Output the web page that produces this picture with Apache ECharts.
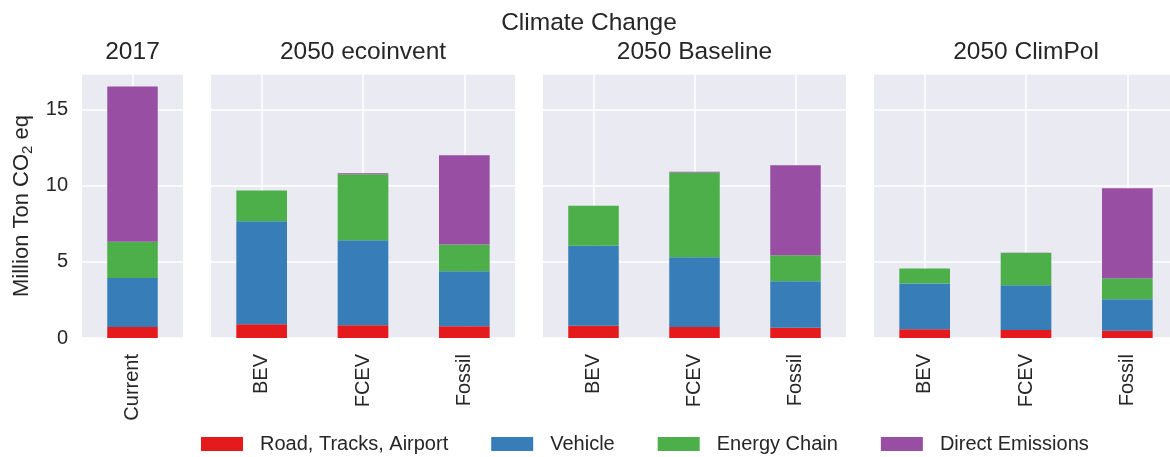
<!DOCTYPE html>
<html>
<head>
<meta charset="utf-8">
<script src="https://cdn.jsdelivr.net/npm/echarts@6/dist/echarts.min.js"></script>
<style>
  html, body { margin: 0; padding: 0; background: #fff; }
  #chart { width: 1170px; height: 457px; }
</style>
</head>
<body>
<div id="chart"></div>
<script>
// Panel titles and their categories
const panelTitles = ['2017', '2050 ecoinvent', '2050 Baseline', '2050 ClimPol'];
const panelCategories = [
  ['Current'],
  ['BEV', 'FCEV', 'Fossil'],
  ['BEV', 'FCEV', 'Fossil'],
  ['BEV', 'FCEV', 'Fossil']
];

// Emission components (Million Ton CO2 eq), one array per panel
const roadTracksAirport = [[0.72], [0.90, 0.83, 0.77], [0.81, 0.72, 0.68], [0.57, 0.53, 0.48]];
const vehicle           = [[3.23], [6.78, 5.60, 3.62], [5.25, 4.59, 3.05], [3.01, 2.94, 2.07]];
const energyChain       = [[2.37], [2.02, 4.33, 1.76], [2.63, 5.56, 1.71], [0.99, 2.11, 1.38]];
const directEmissions   = [[10.21], [0, 0.06, 5.86], [0, 0.06, 5.91], [0, 0.02, 5.91]];

const seriesNames = ['Road, Tracks, Airport', 'Vehicle', 'Energy Chain', 'Direct Emissions'];
const seriesColors = ['#E41A1C', '#377EB8', '#4DAF4A', '#984EA3'];
const seriesData = [roadTracksAirport, vehicle, energyChain, directEmissions];

const yTicks = [0, 5, 10, 15];
const yMax = 17.35;

const FONT = '"Liberation Sans", Arial, sans-serif';
const TXT = '#262626';
const BG = '#EAEAF2';

// Grid boxes for the four panels
const gridBoxes = [
  { left: 82, width: 101 },
  { left: 211, width: 304 },
  { left: 543, width: 303 },
  { left: 874, width: 304 }
];
const gridTop = 74;
const gridHeight = 264;

const grids = gridBoxes.map(g => ({
  left: g.left, width: g.width, top: gridTop, height: gridHeight,
  show: true, backgroundColor: BG, borderWidth: 0, containLabel: false,
  outerBoundsMode: 'none'
}));

const xAxes = panelCategories.map((cats, i) => ({
  type: 'category', gridIndex: i, data: cats,
  axisLine: { show: false }, axisTick: { show: false, alignWithLabel: true },
  axisLabel: { rotate: 90, margin: 16, fontSize: 20, color: TXT, fontFamily: FONT },
  splitLine: { show: true, alignWithLabel: true, lineStyle: { color: '#fff', width: 1.5 } }
}));

const yAxes = panelCategories.map((_, i) => ({
  type: 'value', gridIndex: i, min: 0, max: yMax, interval: 5,
  axisLine: { show: false }, axisTick: { show: false },
  axisLabel: {
    show: i === 0, fontSize: 20, color: TXT, fontFamily: FONT, margin: 14,
    showMaxLabel: false,
    formatter: v => (yTicks.indexOf(v) >= 0 ? String(v) : '')
  },
  splitLine: { show: true, lineStyle: { color: '#fff', width: 1.5 } },
  name: i === 0 ? '{a|Million Ton CO}{s|2}{a| eq}' : '',
  nameLocation: 'middle', nameGap: 47, nameRotate: 90,
  nameTextStyle: {
    fontSize: 22, color: TXT, fontFamily: FONT,
    rich: {
      a: { fontSize: 22, color: TXT, fontFamily: FONT, lineHeight: 26 },
      s: { fontSize: 15, color: TXT, fontFamily: FONT, lineHeight: 26, verticalAlign: 'bottom', padding: [9, 0, 0, 0] }
    }
  }
}));

const series = [];
panelCategories.forEach((_, p) => {
  seriesNames.forEach((name, k) => {
    series.push({
      name, type: 'bar', stack: 'panel' + p,
      xAxisIndex: p, yAxisIndex: p,
      barWidth: '50%',
      itemStyle: { color: seriesColors[k] },
      data: seriesData[k][p],
      animation: false
    });
  });
});

const titles = [{
  text: 'Climate Change', left: 584, top: 6, textAlign: 'center',
  textStyle: { fontSize: 24.5, fontWeight: 'normal', color: TXT, fontFamily: FONT }
}].concat(panelTitles.map((t, i) => ({
  text: t, left: gridBoxes[i].left + gridBoxes[i].width / 2 - 5, top: 35, textAlign: 'center',
  textStyle: { fontSize: 24.5, fontWeight: 'normal', color: TXT, fontFamily: FONT }
})));

const chart = echarts.init(document.getElementById('chart'), null, { renderer: 'canvas' });
chart.setOption({
  backgroundColor: '#fff',
  animation: false,
  title: titles,
  legend: {
    data: seriesNames, left: 196, top: 429,
    itemWidth: 42, itemHeight: 14, itemGap: 43,
    icon: 'rect',
    textStyle: { fontSize: 20, color: TXT, fontFamily: FONT, padding: [0, 0, 0, 12] }
  },
  grid: grids,
  xAxis: xAxes,
  yAxis: yAxes,
  series
});
</script>
</body>
</html>
